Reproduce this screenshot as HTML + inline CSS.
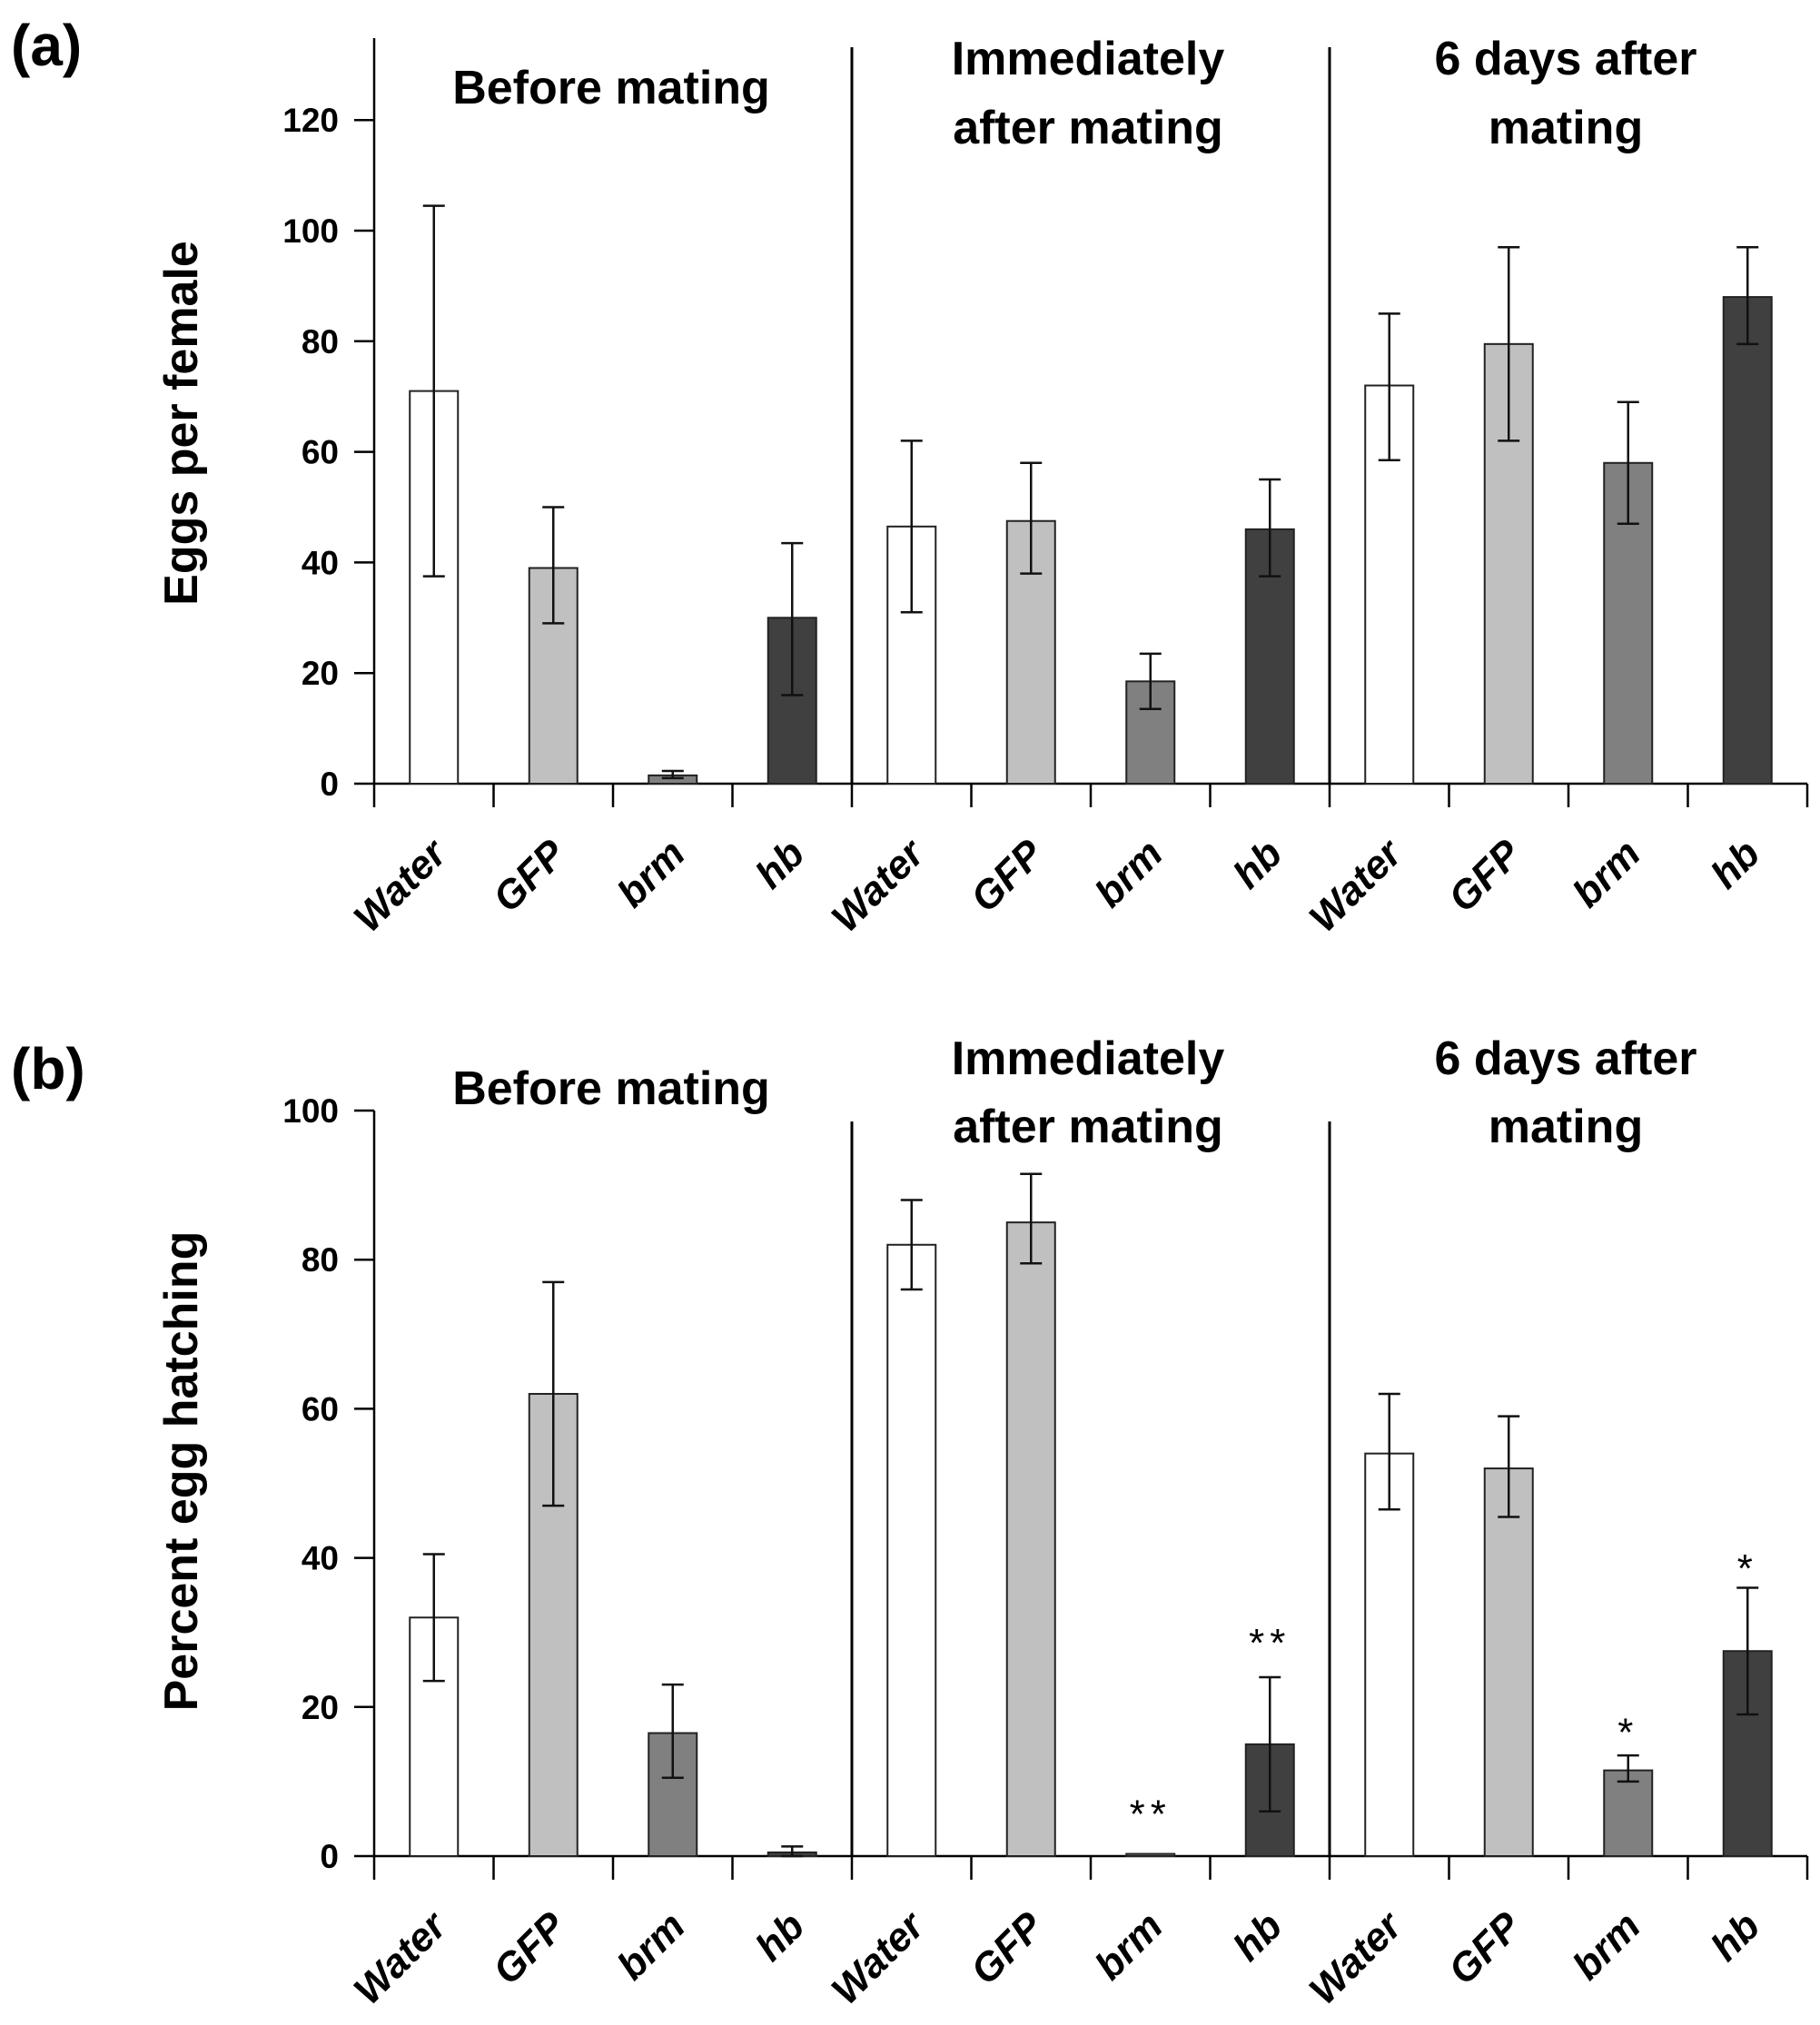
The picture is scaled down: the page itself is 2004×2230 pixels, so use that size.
<!DOCTYPE html>
<html><head><meta charset="utf-8"><style>
html,body{margin:0;padding:0;background:#fff}
svg{display:block}
text{font-family:"Liberation Sans","DejaVu Sans",sans-serif;font-weight:bold;fill:#000}
</style></head><body>
<svg id="chart" width="2004" height="2230" viewBox="0 0 2004 2230" xmlns="http://www.w3.org/2000/svg"></svg>
<script>
const categories = ["Water","GFP","brm","hb","Water","GFP","brm","hb","Water","GFP","brm","hb"];
const groupTitles = [["Before mating"],["Immediately","after mating"],["6 days after","mating"]];
const colors = ["#ffffff","#c0c0c0","#808080","#404040"];
const eggsValues = [71,39,1.5,30, 46.5,47.5,18.5,46, 72,79.5,58,88];
const eggsLow = [37.5,29,1,16, 31,38,13.5,37.5, 58.5,62,47,79.5];
const eggsHigh = [104.5,50,2.3,43.5, 62,58,23.5,55, 85,97,69,97];
const eggsTicks = [0,20,40,60,80,100,120];
const hatchValues = [32,62,16.5,0.5, 82,85,0.3,15, 54,52,11.5,27.5];
const hatchLow = [23.5,47,10.5,0, 76,79.5,null,6, 46.5,45.5,10,19];
const hatchHigh = [40.5,77,23,1.3, 88,91.5,null,24, 62,59,13.5,36];
const hatchTicks = [0,20,40,60,80,100];
const hatchStars = ["","","","", "","","**","**", "","","*","*"];
const hatchStarValue = [0,0,0,0, 0,0,6,29, 0,0,17,39];

const svg = document.getElementById('chart');
const NS = "http://www.w3.org/2000/svg";
function mk(tag, attrs, parent){const e=document.createElementNS(NS,tag);for(const k in attrs)e.setAttribute(k,attrs[k]);(parent||svg).appendChild(e);return e;}

function panel(cfg){
  const g = mk('g',{});
  
  
  const x0=412, step=131.5, bw=53;
  const y = v => cfg.zeroY - v*cfg.perUnit;
  const xc = i => x0 + step*(i+0.5);
  const lab = mk('text',{x:12,y:cfg.labelY,'font-size':64},g); lab.textContent=cfg.label;
  
  
  const ya = mk('line',{x1:x0,y1:cfg.axisTop,x2:x0,y2:cfg.zeroY,stroke:'#000','stroke-width':2.5},g);
  
  
  cfg.ticks.forEach(t=>{
    mk('line',{x1:x0-22,y1:y(t),x2:x0,y2:y(t),stroke:'#000','stroke-width':2.5},g);
    const tl = mk('text',{x:373,y:y(t)+13,'font-size':37,'text-anchor':'end'},g); tl.textContent=t;
    
    
  });
  const yt = mk('text',{x:0,y:0,'font-size':52,'text-anchor':'middle',transform:`translate(217,${cfg.titleY}) rotate(-90)`},g);
  yt.textContent=cfg.yTitle;
  
  
  const xa = mk('line',{x1:x0,y1:cfg.zeroY,x2:x0+step*12,y2:cfg.zeroY,stroke:'#000','stroke-width':2.5},g);
  
  
  for(let i=0;i<=12;i++) mk('line',{x1:x0+step*i,y1:cfg.zeroY,x2:x0+step*i,y2:cfg.zeroY+26,stroke:'#000','stroke-width':2.5},g);
  [4,8].forEach(k=>{
    const d=mk('line',{x1:x0+step*k,y1:cfg.divTop,x2:x0+step*k,y2:cfg.zeroY,stroke:'#000','stroke-width':3},g);
    
    
  });
  groupTitles.forEach((lines,gi)=>{
    const cx = x0 + step*4*gi + step*2 + (gi===0?-2:(gi===1?-3:-3));
    lines.forEach((s,li)=>{
      const yy = lines.length===1 ? cfg.singleTitleY : cfg.titleLineY[li];
      const t=mk('text',{x:cx,y:yy,'font-size':52,'text-anchor':'middle'},g); t.textContent=s;
      
      
    });
  });
  cfg.values.forEach((v,i)=>{
    const b=mk('rect',{x:xc(i)-bw/2,y:y(v),width:bw,height:Math.max(cfg.zeroY-y(v),1),fill:colors[i%4],stroke:'#222','stroke-width':2},g);
    
    
    if(cfg.low[i]!=null){
      const eg = mk('g',{stroke:'#111','stroke-width':2.5},g);
      
      
      mk('line',{x1:xc(i),y1:y(cfg.low[i]),x2:xc(i),y2:y(cfg.high[i])},eg);
      mk('line',{x1:xc(i)-12,y1:y(cfg.low[i]),x2:xc(i)+12,y2:y(cfg.low[i])},eg);
      mk('line',{x1:xc(i)-12,y1:y(cfg.high[i]),x2:xc(i)+12,y2:y(cfg.high[i])},eg);
    }
    if(cfg.stars && cfg.stars[i]){
      const s=mk('text',{x:xc(i),y:y(cfg.starVal[i])+18,'font-size':44,'text-anchor':'middle','letter-spacing':6},g);
      s.style.fontWeight='normal'; s.textContent=cfg.stars[i];
      
      
    }
    const cl=mk('text',{x:0,y:0,'font-size':44,'font-style':'italic','text-anchor':'end',transform:`translate(${xc(i)+16},${cfg.zeroY+80}) rotate(-45)`},g);
    cl.textContent=categories[i];
    
    
  });
}
panel({name:'panel-a-eggs',label:'(a)',labelY:72,zeroY:863,perUnit:121.8/20,axisTop:42,divTop:52,ticks:eggsTicks,
  yTitle:'Eggs per female',titleY:466,values:eggsValues,low:eggsLow,high:eggsHigh,
  singleTitleY:114,titleLineY:[82,158]});
panel({name:'panel-b-hatching',label:'(b)',labelY:1199,zeroY:2044,perUnit:164.2/20,axisTop:1223,divTop:1235,ticks:hatchTicks,
  yTitle:'Percent egg hatching',titleY:1620,values:hatchValues,low:hatchLow,high:hatchHigh,stars:hatchStars,starVal:hatchStarValue,
  singleTitleY:1216,titleLineY:[1183,1258]});
</script>
</body></html>
